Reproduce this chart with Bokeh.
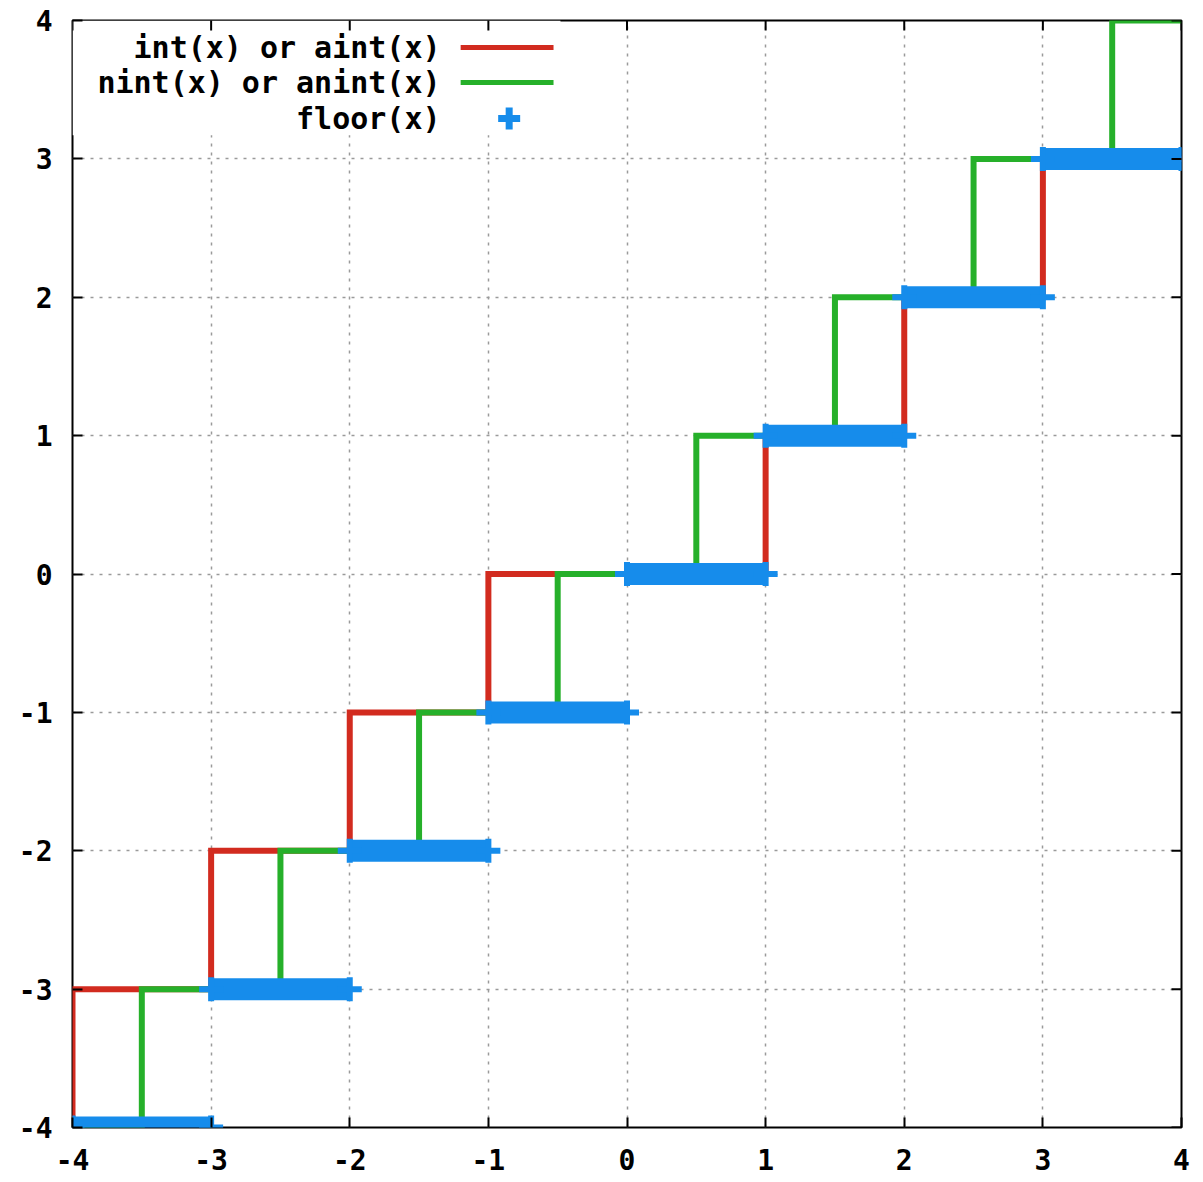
from bokeh.plotting import figure
from bokeh.models import Range1d, FixedTicker, Label
from bokeh.embed import file_html
from bokeh.resources import INLINE

# ---- data ----
ticks = [-4, -3, -2, -1, 0, 1, 2, 3, 4]
tick_labels = ["-4", "-3", "-2", "-1", "0", "1", "2", "3", "4"]

# int(x) / aint(x): truncation toward zero (vertices of the step curve)
int_x = [-4, -4, -3, -3, -2, -2, -1, -1, 1, 1, 2, 2, 3, 3, 4]
int_y = [-4, -3, -3, -2, -2, -1, -1, 0, 0, 1, 1, 2, 2, 3, 3]

# nint(x) / anint(x): round to nearest
nint_x = [-4, -3.5, -3.5, -2.5, -2.5, -1.5, -1.5, -0.5, -0.5, 0.5, 0.5, 1.5, 1.5, 2.5, 2.5, 3.5, 3.5, 4]
nint_y = [-4, -4, -3, -3, -2, -2, -1, -1, 0, 0, 1, 1, 2, 2, 3, 3, 4, 4]

# floor(x): level k on [k, k+1)
floor_x0 = [-4, -3, -2, -1, 0, 1, 2, 3]
floor_x1 = [-3, -2, -1, 0, 1, 2, 3, 4]
floor_y = [-4, -3, -2, -1, 0, 1, 2, 3]

legend_labels = ["int(x) or aint(x)", "nint(x) or anint(x)", "floor(x)"]

RED = "#d22b1f"
GREEN = "#26b02a"
BLUE = "#168ceb"
FONT = "DejaVu Sans Mono"

p = figure(width=1203, height=1182, output_backend="svg", toolbar_location=None,
           x_range=Range1d(-4, 4), y_range=Range1d(-4, 4),
           min_border_left=72, min_border_right=22, min_border_top=20, min_border_bottom=55)
p.outline_line_color = "black"
p.outline_line_width = 2
p.background_fill_color = "white"
p.border_fill_color = "white"

overrides = {t: s for t, s in zip(ticks, tick_labels)}
for ax in (p.xaxis[0], p.yaxis[0]):
    ax.ticker = FixedTicker(ticks=ticks)
    ax.major_label_overrides = overrides
    ax.axis_line_color = None
    ax.major_tick_in = 10
    ax.major_tick_out = 0
    ax.major_tick_line_color = "black"
    ax.major_tick_line_width = 2
    ax.minor_tick_line_color = None
    ax.major_label_text_font = FONT
    ax.major_label_text_font_style = "bold"
    ax.major_label_text_font_size = "28px"
    ax.major_label_text_color = "black"
p.xaxis[0].major_label_standoff = 21
p.yaxis[0].major_label_standoff = 20

for g in (p.xgrid[0], p.ygrid[0]):
    g.ticker = FixedTicker(ticks=ticks)
    g.grid_line_color = "#9a9a9a"
    g.grid_line_width = 1.5
    g.grid_line_dash = "3 6"

# white legend box hiding the grid
p.quad(left=[-4], right=[-0.48], top=[4], bottom=[3.17], fill_color="white", line_color=None)

# curves
p.line(int_x, int_y, line_color=RED, line_width=6, line_join="miter")
p.line(nint_x, nint_y, line_color=GREEN, line_width=6, line_join="miter")
p.segment(x0=floor_x0, y0=floor_y, x1=floor_x1, y1=floor_y,
          line_color=BLUE, line_width=22, line_cap="butt")
p.scatter(floor_x0 + floor_x1, floor_y + floor_y, marker="cross", size=24,
          line_color=BLUE, line_width=6)

# mirrored inward ticks on the top and right borders (clipped to the frame)
n = len(ticks)
p.scatter(ticks, [4] * n, marker="dash", angle=1.5708, size=20, line_color="black", line_width=2)
p.scatter([4] * n, ticks, marker="dash", size=20, line_color="black", line_width=2)

# legend (gnuplot style: text then sample)
ly = [3.805, 3.552, 3.292]
for lab, yy in zip(legend_labels, ly):
    p.add_layout(Label(x=-1.345, y=yy, text=lab, text_align="right", text_baseline="middle",
                       text_font=FONT, text_font_style="bold", text_font_size="30px",
                       text_color="black"))
p.segment(x0=[-1.20, -1.20], y0=ly[:2], x1=[-0.53, -0.53], y1=ly[:2],
          line_color=[RED, GREEN], line_width=5)
p.scatter([-0.85], [ly[2]], marker="cross", size=22, line_color=BLUE, line_width=7)

open("out.html", "w").write(file_html(p, INLINE))
